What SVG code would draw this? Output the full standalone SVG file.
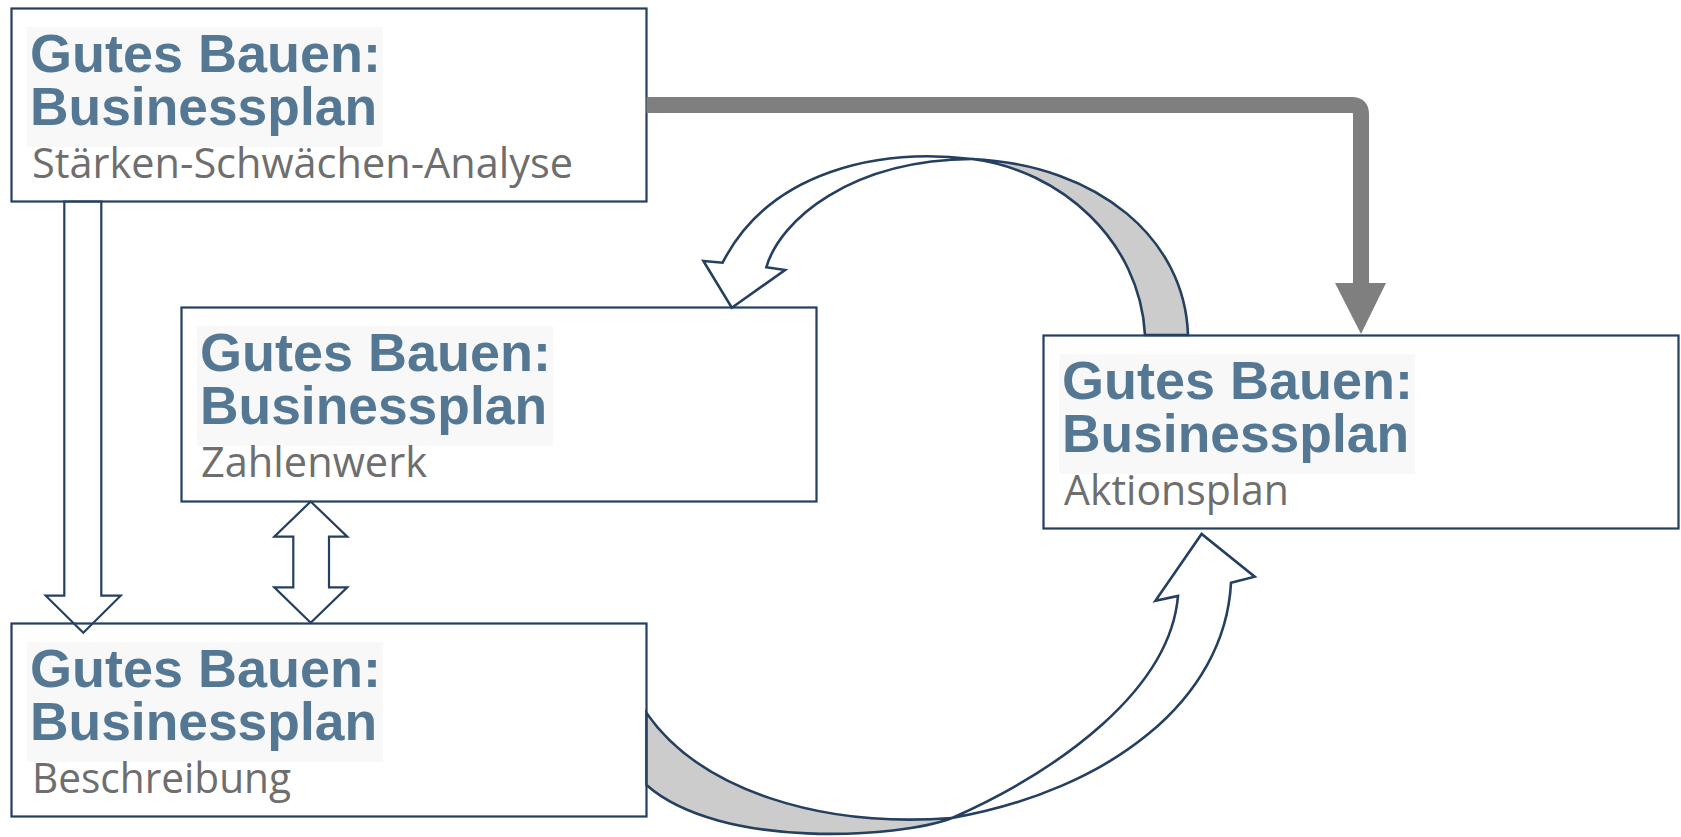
<svg xmlns="http://www.w3.org/2000/svg" width="1681" height="837" viewBox="0 0 1681 837">
<style>
.box{fill:#ffffff;stroke:#243F60;stroke-width:2.2}
.tbg{fill:#f8f8f8}
.t{font-family:"Liberation Sans",Arial,sans-serif;font-weight:bold;font-size:54px;fill:#547893}
.s{font-family:"Open Sans","Liberation Sans",sans-serif;font-size:42px;fill:#6E6E6E}
.blk{fill:none;stroke:#243F60;stroke-width:2.2;stroke-linejoin:miter}
.front{fill:#ffffff;stroke:#243F60;stroke-width:2.6;stroke-linejoin:miter}
.back{fill:#CCCCCC;stroke:#243F60;stroke-width:2.6}
.gl{fill:none;stroke:#7F7F7F;stroke-width:16}
.gh{fill:#7F7F7F}
</style>
<rect width="1681" height="837" fill="#ffffff"/>
<g id="node-staerken">
<rect class="box" x="11.5" y="8.5" width="635" height="193"/>
<rect class="tbg" x="27" y="27" width="356" height="120"/>
<text class="t"><tspan x="30" y="71.5" textLength="351" lengthAdjust="spacingAndGlyphs">Gutes Bauen:</tspan><tspan x="30" y="124.5" textLength="347" lengthAdjust="spacingAndGlyphs">Businessplan</tspan></text>
<text class="s" x="32" y="177.5" textLength="541" lengthAdjust="spacingAndGlyphs">Stärken-Schwächen-Analyse</text>
</g>
<g id="node-zahlenwerk">
<rect class="box" x="181.5" y="307.5" width="635" height="194"/>
<rect class="tbg" x="197" y="326" width="356" height="120"/>
<text class="t"><tspan x="200" y="370.5" textLength="351" lengthAdjust="spacingAndGlyphs">Gutes Bauen:</tspan><tspan x="200" y="423.5" textLength="347" lengthAdjust="spacingAndGlyphs">Businessplan</tspan></text>
<text class="s" x="201" y="476.5" textLength="226" lengthAdjust="spacingAndGlyphs">Zahlenwerk</text>
</g>
<g id="node-aktionsplan">
<rect class="box" x="1043.5" y="335.5" width="635" height="193"/>
<rect class="tbg" x="1059" y="354" width="356" height="120"/>
<text class="t"><tspan x="1062" y="398.5" textLength="351" lengthAdjust="spacingAndGlyphs">Gutes Bauen:</tspan><tspan x="1062" y="451.5" textLength="347" lengthAdjust="spacingAndGlyphs">Businessplan</tspan></text>
<text class="s" x="1064" y="504.5" textLength="225" lengthAdjust="spacingAndGlyphs">Aktionsplan</text>
</g>
<g id="node-beschreibung">
<rect class="box" x="11.5" y="623.5" width="635" height="193"/>
<rect class="tbg" x="27" y="642" width="356" height="120"/>
<text class="t"><tspan x="30" y="686.5" textLength="351" lengthAdjust="spacingAndGlyphs">Gutes Bauen:</tspan><tspan x="30" y="739.5" textLength="347" lengthAdjust="spacingAndGlyphs">Businessplan</tspan></text>
<text class="s" x="32" y="792.5" textLength="259" lengthAdjust="spacingAndGlyphs">Beschreibung</text>
</g>
<g id="connectors">
<path class="gl" d="M646.5,105 H1352 Q1361,105 1361,114 V284"/>
<polygon class="gh" points="1335,283 1386,283 1361,334"/>
<polygon class="blk" points="64.3,201.5 64.3,595.7 45.7,595.7 83.3,632.7 120.7,595.7 101.3,595.7 101.3,201.5"/>
<polygon class="blk" points="310.7,501.5 347.3,536.7 329,536.7 329,587.3 347.3,587.3 310.7,622.7 274.3,587.3 293.3,587.3 293.3,536.7 274.3,536.7"/>
<path class="back" d="M972,159 C1060,170 1140,240 1145,335 L1188,335 C1185,240 1100,165 972,159 Z"/>
<path class="front" d="M972,159 C880,148 770,170 722.6,262.7 L703.4,261 L731.8,307.7 L785,270 L766.3,267.3 C780,220 850,160 972,159 Z"/>
<path class="back" d="M646.5,713 C700,790 820,828 952,818 C900,838 720,850 646.5,785 Z"/>
<path class="front" d="M952,818 C1060,770 1170,690 1178,596 L1155.4,600.7 L1201.6,534 L1254.7,576.7 L1231,582.7 C1225,700 1110,790 952,818 Z"/>
</g>
</svg>
